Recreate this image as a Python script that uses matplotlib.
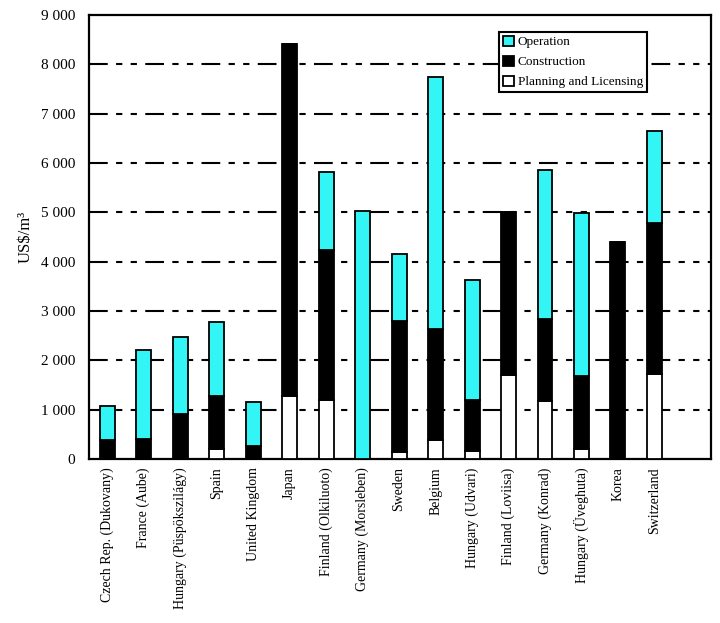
import numpy as np
import matplotlib
matplotlib.use("Agg")
import matplotlib.pyplot as plt
from matplotlib.ticker import FixedLocator, FuncFormatter

plt.rcParams['font.family'] = ['Liberation Serif', 'DejaVu Serif']

# sites and cost components (US$/m3)
sites = ["Czech Rep. (Dukovany)", "France (Aube)", "Hungary (Püspökszilágy)", "Spain",
         "United Kingdom", "Japan", "Finland (Olkiluoto)", "Germany (Morsleben)", "Sweden",
         "Belgium", "Hungary (Udvari)", "Finland (Loviisa)", "Germany (Konrad)",
         "Hungary (Üveghuta)", "Korea", "Switzerland"]
planning = [0, 0, 0, 210, 0, 1280, 1200, 0, 150, 390, 170, 1710, 1180, 200, 0, 1720]
construction = [380, 405, 910, 1070, 270, 7140, 3040, 0, 2650, 2245, 1030, 3300, 1660, 1490, 4390, 3060]
operation = [700, 1795, 1570, 1490, 890, 0, 1580, 5030, 1350, 5115, 2430, 0, 3020, 3300, 0, 1870]

x = np.arange(len(sites))
planning = np.array(planning)
construction = np.array(construction)
operation = np.array(operation)

fig = plt.figure(figsize=(7.2, 6.23), dpi=100)
ax = fig.add_axes([0.1236, 0.2632, 0.8639, 0.7128])

w = 0.41
ax.bar(x, planning, w, color="white", edgecolor="black", linewidth=1.3,
       label="Planning and Licensing", zorder=3)
ax.bar(x, construction, w, bottom=planning, color="black", edgecolor="black",
       linewidth=1.3, label="Construction", zorder=3)
ax.bar(x, operation, w, bottom=planning + construction, color="#33f5f5",
       edgecolor="black", linewidth=1.3, label="Operation", zorder=3)

# dash-dot-dot gridlines
for yv in range(1000, 9000, 1000):
    ax.axhline(yv, color="black", linewidth=1.5, linestyle=(0, (9, 4, 3, 4, 3, 4)), zorder=1)

ax.set_xlim(-0.5, 16.55)
ax.set_ylim(0, 9000)
ax.yaxis.set_major_locator(FixedLocator(range(0, 9001, 1000)))
ax.yaxis.set_major_formatter(FuncFormatter(lambda v, p: f"{int(v):,}".replace(",", " ")))
ax.set_xticks(x)
ax.set_xticklabels(sites, rotation=90, fontsize=10)
ax.tick_params(axis="y", labelsize=11, length=0, pad=10)
ax.tick_params(axis="x", length=0, pad=6)
for s in ax.spines.values():
    s.set_linewidth(1.6)

ax.set_ylabel("US$/m³", fontsize=12, labelpad=5)

h, l = ax.get_legend_handles_labels()
leg = ax.legend(h[::-1], l[::-1], loc="upper right", bbox_to_anchor=(0.897, 0.962),
                fontsize=9.5, frameon=True, fancybox=False, edgecolor="black",
                framealpha=1, handlelength=0.8, handleheight=0.8, handletextpad=0.3,
                borderpad=0.3, labelspacing=0.55, borderaxespad=0)
leg.get_frame().set_linewidth(1.5)
leg.set_zorder(5)

fig.savefig("out.png", dpi=100)
